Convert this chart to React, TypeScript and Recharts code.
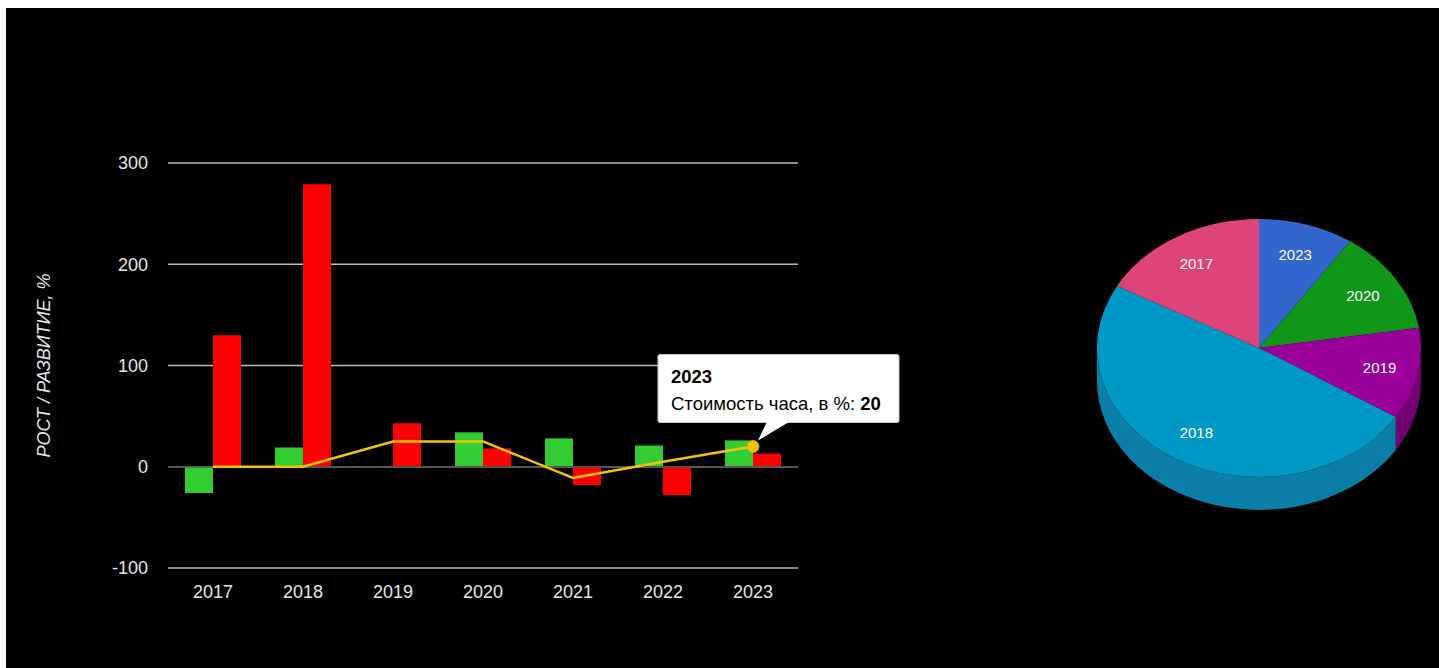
import React from 'react';
import {
  ComposedChart,
  Bar,
  Line,
  XAxis,
  YAxis,
  CartesianGrid,
  ReferenceLine,
  PieChart,
  Pie,
  Cell,
} from 'recharts';

// ---------- data ----------
const years = ['2017', '2018', '2019', '2020', '2021', '2022', '2023'];
const growthValues = [-26, 19, 0, 34, 28, 21, 26];
const developmentValues = [130, 279, 43, 18, -18, -28, 13];
const hourCostValues = [0, 0, 25, 25, -11, 5, 20];
const yTicks = [-100, 0, 100, 200, 300];

const pieYears = ['2023', '2020', '2019', '2018', '2017'];
const pieValues = [19, 26, 23, 98, 34];
const pieColors = ['#3366cc', '#109618', '#990099', '#0099c6', '#dd4477'];
const pieSideColors = ['#264d99', '#0c7112', '#730073', '#0a7ea6', '#a63359'];

const barData = years.map((year, i) => ({
  year,
  growth: growthValues[i],
  development: developmentValues[i],
  hourCost: hourCostValues[i],
}));

const pieData = pieYears.map((name, i) => ({ name, value: pieValues[i] }));

// ---------- styles ----------
const FONT = '"Liberation Sans", Arial, Helvetica, sans-serif';
const GREEN = '#33cc33';
const RED = '#ff0000';
const YELLOW = '#f4c20d';
const TEXT = '#e6e6e6';

// ---------- 3D pie helpers ----------
const TILT = 0.796;
const DEPTH = 33;
const RAD = Math.PI / 180;
const ept = (cx: number, cy: number, r: number, a: number, dy = 0): [number, number] => [
  cx + r * Math.cos(a * RAD),
  cy - TILT * r * Math.sin(a * RAD) + dy,
];

function Slice3D(props: any) {
  const { cx, cy, outerRadius: r, startAngle, endAngle, fill } = props;
  const hi = Math.max(startAngle, endAngle);
  const lo = Math.min(startAngle, endAngle);
  const ry = r * TILT;
  const large = hi - lo > 180 ? 1 : 0;
  const [x1, y1] = ept(cx, cy, r, hi);
  const [x2, y2] = ept(cx, cy, r, lo);
  const top = `M${cx},${cy} L${x1},${y1} A${r},${ry} 0 ${large} 1 ${x2},${y2} Z`;
  const fhi = Math.min(hi, 0);
  const flo = Math.max(lo, -180);
  let side: string | null = null;
  if (fhi > flo) {
    const [a1, b1] = ept(cx, cy, r, fhi);
    const [a2, b2] = ept(cx, cy, r, flo);
    side = `M${a1},${b1} A${r},${ry} 0 0 1 ${a2},${b2} L${a2},${b2 + DEPTH} A${r},${ry} 0 0 0 ${a1},${b1 + DEPTH} Z`;
  }
  const idx = pieColors.indexOf(fill);
  const sideFill = idx >= 0 ? pieSideColors[idx] : fill;
  return (
    <g>
      {side && <path d={side} fill={sideFill} stroke="none" />}
      <path d={top} fill={fill} stroke="none" />
    </g>
  );
}

function PieLabel(props: any) {
  const { cx, cy, outerRadius, midAngle, name } = props;
  const [x, y] = ept(cx, cy, outerRadius * 0.76, midAngle);
  return (
    <text
      x={x}
      y={y}
      fill="#ffffff"
      fontSize={15}
      fontFamily={FONT}
      textAnchor="middle"
      dominantBaseline="central"
    >
      {name}
    </text>
  );
}

// ---------- callout (tooltip look) ----------
function Callout(props: any) {
  const { x, y, index } = props;
  if (index !== years.length - 1 || x == null || y == null) return <g />;
  const left = x - 95;
  const top = y - 92;
  const w = 241;
  const h = 68;
  return (
    <g>
      <rect x={left} y={top} width={w} height={h} rx={2} fill="#ffffff" stroke="#cccccc" strokeWidth={1} />
      <polygon points={`${x + 14},${top + h - 1} ${x + 37},${top + h - 1} ${x + 5},${y - 6}`} fill="#ffffff" />
      <text x={left + 13} y={y - 64} fontSize={18.5} fontWeight="bold" fontFamily={FONT} fill="#000">
        {years[index]}
      </text>
      <text x={left + 13} y={y - 37} fontSize={18.5} fontFamily={FONT} fill="#000">
        Стоимость часа, в %: <tspan fontWeight="bold">{hourCostValues[index]}</tspan>
      </text>
    </g>
  );
}

function LineDot(props: any) {
  const { cx, cy, index } = props;
  if (index !== years.length - 1) return <g key={`d${index}`} />;
  return <circle key={`d${index}`} cx={cx} cy={cy} r={6} fill={YELLOW} stroke="#d9a400" strokeWidth={1} />;
}

function YTitle(props: any) {
  const { viewBox } = props;
  const cy = viewBox.y + viewBox.height / 2;
  const cx = 38;
  return (
    <text
      x={cx}
      y={cy}
      transform={`rotate(-90, ${cx}, ${cy})`}
      textAnchor="middle"
      dominantBaseline="central"
      fontSize={18}
      fontStyle="italic"
      fontFamily={FONT}
      fill={TEXT}
    >
      РОСТ / РАЗВИТИЕ, %
    </text>
  );
}

export default function App() {
  return (
    <div
      style={{
        position: 'fixed',
        left: 6,
        top: 8,
        width: 1433,
        height: 660,
        background: '#000',
        fontFamily: FONT,
        overflow: 'hidden',
      }}
    >
      <div style={{ position: 'absolute', left: 0, top: 0 }}>
        <ComposedChart
          width={940}
          height={640}
          data={barData}
          margin={{ top: 155, right: 148, bottom: 50, left: 0 }}
          barGap={0}
          barSize={28}
        >
          <CartesianGrid vertical={false} stroke="#bbbbbb" strokeWidth={1.5} />
          <XAxis
            dataKey="year"
            axisLine={false}
            tickLine={false}
            tickMargin={11}
            tick={{ fill: TEXT, fontSize: 18, fontFamily: FONT }}
          />
          <YAxis
            width={162}
            domain={[-100, 300]}
            ticks={yTicks}
            axisLine={false}
            tickLine={false}
            tickMargin={14}
            tick={{ fill: TEXT, fontSize: 18, fontFamily: FONT }}
            label={<YTitle />}
          />
          <ReferenceLine y={0} stroke="#555555" strokeWidth={1.5} />
          <Bar dataKey="growth" name="Рост" fill={GREEN} isAnimationActive={false} />
          <Bar dataKey="development" name="Развитие" fill={RED} isAnimationActive={false} />
          <Line
            type="linear"
            dataKey="hourCost"
            name="Стоимость часа, в %"
            stroke={YELLOW}
            strokeWidth={2.5}
            dot={LineDot}
            activeDot={false}
            label={Callout}
            isAnimationActive={false}
          />
        </ComposedChart>
      </div>
      <div style={{ position: 'absolute', left: 1040, top: 150 }}>
        <PieChart width={400} height={400} margin={{ top: 0, right: 0, bottom: 0, left: 0 }}>
          <Pie
            data={pieData}
            dataKey="value"
            nameKey="name"
            cx={213}
            cy={190}
            outerRadius={162}
            startAngle={90}
            endAngle={-270}
            stroke="none"
            shape={Slice3D}
            activeShape={Slice3D}
            inactiveShape={Slice3D}
            label={PieLabel}
            labelLine={false}
            isAnimationActive={false}
          >
            {pieData.map((d, i) => (
              <Cell key={d.name} fill={pieColors[i]} />
            ))}
          </Pie>
        </PieChart>
      </div>
    </div>
  );
}
